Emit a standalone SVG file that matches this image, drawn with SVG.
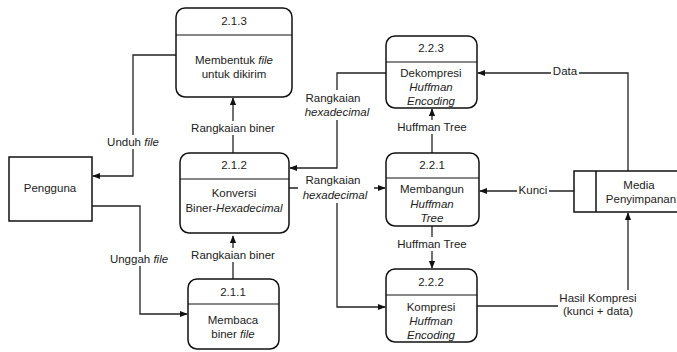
<svg xmlns="http://www.w3.org/2000/svg" width="677" height="352" viewBox="0 0 677 352">
<defs>
<style>
text{font-family:"Liberation Sans",Arial,sans-serif;font-size:11.5px;fill:#222;text-anchor:middle;dominant-baseline:central}
.i{font-style:italic}
.box{fill:#fff;stroke:#111;stroke-width:1.5}
.div{stroke:#111;stroke-width:1}
.c{fill:none;stroke:#222;stroke-width:1.3}
.bg{fill:#fff}
</style>
<marker id="a" viewBox="0 0 10 10" refX="9" refY="5" markerWidth="8" markerHeight="8" markerUnits="userSpaceOnUse" orient="auto"><path d="M0,1L10,5L0,9z" fill="#111"/></marker>
</defs>
<rect width="677" height="352" fill="#fff"/>
<g id="connectors">
<path class="c" d="M176,55H133V176H93" marker-end="url(#a)"/>
<path class="c" d="M92,206H140V314H187" marker-end="url(#a)"/>
<path class="c" d="M233,279V236" marker-end="url(#a)"/>
<path class="c" d="M233,153V98" marker-end="url(#a)"/>
<path class="c" d="M386,73H337V168H290" marker-end="url(#a)"/>
<path class="c" d="M289,188H385" marker-end="url(#a)"/>
<path class="c" d="M337,188V307H385" marker-end="url(#a)"/>
<path class="c" d="M432,226V268" marker-end="url(#a)"/>
<path class="c" d="M432,153V109" marker-end="url(#a)"/>
<path class="c" d="M628,171V73H478" marker-end="url(#a)"/>
<path class="c" d="M574,191H480" marker-end="url(#a)"/>
<path class="c" d="M477,306H558"/>
<path class="c" d="M628,290V213" marker-end="url(#a)"/>
<rect class="bg" x="103" y="135" width="60" height="14"/>
<text x="133" y="142">Unduh <tspan class="i">file</tspan></text>
<rect class="bg" x="107" y="252" width="64" height="14"/>
<text x="139" y="259">Unggah <tspan class="i">file</tspan></text>
<rect class="bg" x="189" y="248" width="88" height="14"/>
<text x="233" y="255">Rangkaian biner</text>
<rect class="bg" x="189" y="121" width="88" height="14"/>
<text x="233" y="128">Rangkaian biner</text>
<rect class="bg" x="300" y="90" width="74" height="30"/>
<text x="333" y="98">Rangkaian</text>
<text x="337" y="112" class="i">hexadecimal</text>
<rect class="bg" x="298" y="173" width="76" height="30"/>
<text x="333" y="180">Rangkaian</text>
<text x="335" y="195" class="i">hexadecimal</text>
<rect class="bg" x="395" y="237" width="74" height="14"/>
<text x="432" y="244">Huffman Tree</text>
<rect class="bg" x="395" y="120" width="74" height="14"/>
<text x="432" y="127">Huffman Tree</text>
<rect class="bg" x="551" y="64" width="28" height="14"/>
<text x="565" y="71">Data</text>
<rect class="bg" x="517" y="183" width="32" height="14"/>
<text x="533" y="190">Kunci</text>
<text x="598" y="298">Hasil Kompresi</text>
<text x="598" y="311">(kunci + data)</text>
</g>
<g id="pengguna">
<rect class="box" x="9" y="157" width="83" height="64"/>
<text x="50" y="188">Pengguna</text>
</g>
<g id="p213">
<rect class="box" x="176" y="8" width="116" height="89" rx="9"/>
<line class="div" x1="176" y1="35" x2="292" y2="35"/>
<text x="234" y="21">2.1.3</text>
<text x="234" y="60">Membentuk <tspan class="i">file</tspan></text>
<text x="234" y="74">untuk dikirim</text>
</g>
<g id="p212">
<rect class="box" x="180" y="153" width="109" height="80" rx="9"/>
<line class="div" x1="180" y1="179" x2="289" y2="179"/>
<text x="234" y="165">2.1.2</text>
<text x="234" y="193">Konversi</text>
<text x="234" y="208">Biner-<tspan class="i">Hexadecimal</tspan></text>
</g>
<g id="p211">
<rect class="box" x="188" y="279" width="91" height="70" rx="9"/>
<line class="div" x1="188" y1="304" x2="279" y2="304"/>
<text x="233" y="292">2.1.1</text>
<text x="233" y="320">Membaca</text>
<text x="233" y="334">biner <tspan class="i">file</tspan></text>
</g>
<g id="p223">
<rect class="box" x="386" y="36" width="91" height="72" rx="9"/>
<line class="div" x1="386" y1="62" x2="477" y2="62"/>
<text x="431" y="48">2.2.3</text>
<text x="431" y="73">Dekompresi</text>
<text x="431" y="87" class="i">Huffman</text>
<text x="431" y="101" class="i">Encoding</text>
</g>
<g id="p221">
<rect class="box" x="386" y="153" width="93" height="73" rx="9"/>
<line class="div" x1="386" y1="178" x2="479" y2="178"/>
<text x="432" y="165">2.2.1</text>
<text x="432" y="189">Membangun</text>
<text x="432" y="204" class="i">Huffman</text>
<text x="432" y="218" class="i">Tree</text>
</g>
<g id="p222">
<rect class="box" x="386" y="269" width="91" height="73" rx="9"/>
<line class="div" x1="386" y1="295" x2="477" y2="295"/>
<text x="431" y="282">2.2.2</text>
<text x="431" y="307">Kompresi</text>
<text x="431" y="321" class="i">Huffman</text>
<text x="431" y="335" class="i">Encoding</text>
</g>
<g id="media">
<path class="box" d="M680,171H574V212H680"/>
<line class="div" x1="596" y1="171" x2="596" y2="212" style="stroke-width:1.5"/>
<text x="639" y="185">Media</text>
<text x="641" y="199">Penyimpanan</text>
</g>
</svg>
